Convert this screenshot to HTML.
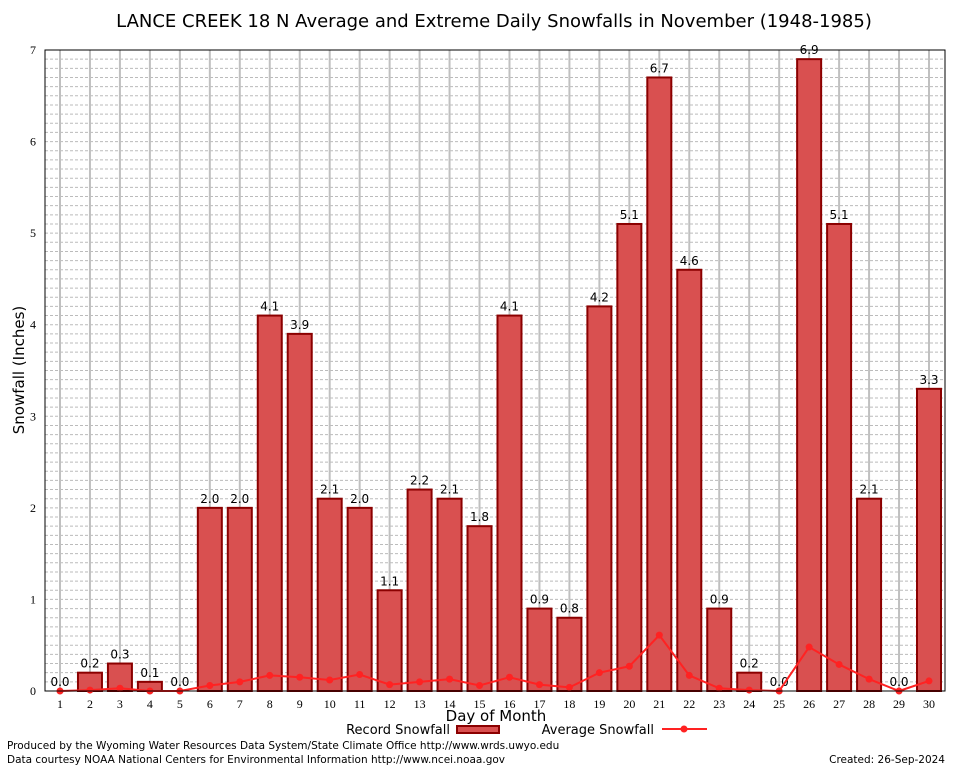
<!DOCTYPE html>
<html><head><meta charset="utf-8"><style>
body{margin:0;background:#fff;}
svg{display:block;font-family:"DejaVu Sans","Liberation Sans",sans-serif;}
</style></head><body>
<svg id="chart" width="954" height="768" xmlns="http://www.w3.org/2000/svg">
<rect x="0" y="0" width="954" height="768" fill="#fff"/>
<text x="494" y="27" font-size="18" text-anchor="middle" fill="#000">LANCE CREEK 18 N Average and Extreme Daily Snowfalls in November (1948-1985)</text>
<g id="grid"></g>
<g id="bars"></g>
<g id="avg"></g>
<rect x="45" y="50" width="900" height="641" fill="none" stroke="#000" stroke-width="1"/>
<g id="axes"></g>
<text x="24" y="370" font-size="15" text-anchor="middle" transform="rotate(-90 24 370)">Snowfall (Inches)</text>
<text x="496" y="721" font-size="15" text-anchor="middle">Day of Month</text>
<g>
<text x="450" y="734" font-size="13" text-anchor="end">Record Snowfall</text>
<rect x="457" y="726" width="42" height="7" fill="#d95050" stroke="#8b0000" stroke-width="2"/>
</g>
<g>
<text x="654" y="734" font-size="13" text-anchor="end">Average Snowfall</text>
<line x1="662" y1="729" x2="707" y2="729" stroke="#f22" stroke-width="2"/>
<circle cx="684" cy="729" r="3.5" fill="#f22"/>
</g>
<text x="7" y="749" font-size="10.5">Produced by the Wyoming Water Resources Data System/State Climate Office http://www.wrds.uwyo.edu</text>
<text x="7" y="763" font-size="10.5">Data courtesy NOAA National Centers for Environmental Information http://www.ncei.noaa.gov</text>
<text x="945" y="763" font-size="10.5" text-anchor="end">Created: 26-Sep-2024</text>
</svg>
<script>
const days=[1,2,3,4,5,6,7,8,9,10,11,12,13,14,15,16,17,18,19,20,21,22,23,24,25,26,27,28,29,30];
const recordValues=[0.0,0.2,0.3,0.1,0.0,2.0,2.0,4.1,3.9,2.1,2.0,1.1,2.2,2.1,1.8,4.1,0.9,0.8,4.2,5.1,6.7,4.6,0.9,0.2,0.0,6.9,5.1,2.1,0.0,3.3];
const averageValues=[0,0.01,0.03,0,0,0.06,0.1,0.17,0.15,0.12,0.18,0.07,0.1,0.13,0.06,0.15,0.07,0.04,0.2,0.27,0.61,0.17,0.03,0.01,0,0.48,0.29,0.13,0,0.11];
const yTicks=[0,1,2,3,4,5,6,7];
const NS="http://www.w3.org/2000/svg";
const L=45,R=945,T=50,B=691,YMAX=7;
function xs(d){return 60+(d-1)*(929-60)/29;}
function ys(v){return B-(v/YMAX)*(B-T);}
function el(tag,attrs,parent,text){const e=document.createElementNS(NS,tag);for(const k in attrs)e.setAttribute(k,attrs[k]);if(text!==undefined)e.textContent=text;parent.appendChild(e);return e;}
const grid=document.getElementById('grid'),bars=document.getElementById('bars'),avg=document.getElementById('avg'),axes=document.getElementById('axes');
for(let i=1;i<YMAX*10;i++){
  const l=el('line',{x1:L,x2:R,y1:ys(i/10),y2:ys(i/10),stroke:'#bbb','stroke-width':1,'stroke-dasharray':'3,2'},grid);
  
  
}
days.forEach(d=>{
  const l=el('line',{x1:xs(d),x2:xs(d),y1:T,y2:B,stroke:'#c0c0c0','stroke-width':2},grid);
  
  
});
const bw=24;
days.forEach((d,i)=>{
  const v=recordValues[i];
  if(v>0){
    const r=el('rect',{x:xs(d)-bw/2,y:ys(v),width:bw,height:B-ys(v),fill:'#d95050',stroke:'#8b0000','stroke-width':2},bars);
    
    
  }
  const t=el('text',{x:xs(d),y:ys(v)-5,'font-size':12,'text-anchor':'middle'},bars,v.toFixed(1));
  
  
});
const pts=days.map((d,i)=>xs(d)+','+ys(averageValues[i])).join(' ');
const pl=el('polyline',{points:pts,fill:'none',stroke:'#f22','stroke-width':2},avg);


days.forEach((d,i)=>{
  const c=el('circle',{cx:xs(d),cy:ys(averageValues[i]),r:3.5,fill:'#f22'},avg);
  
  
});
yTicks.forEach(v=>{
  const t=el('text',{x:36,y:ys(v)+4,'font-size':12,'text-anchor':'end','font-family':'Liberation Serif, serif'},axes,String(v));
  
  
});
days.forEach(d=>{
  const t=el('text',{x:xs(d),y:708,'font-size':12,'text-anchor':'middle','font-family':'Liberation Serif, serif'},axes,String(d));
  
  
});
</script>
</body></html>
